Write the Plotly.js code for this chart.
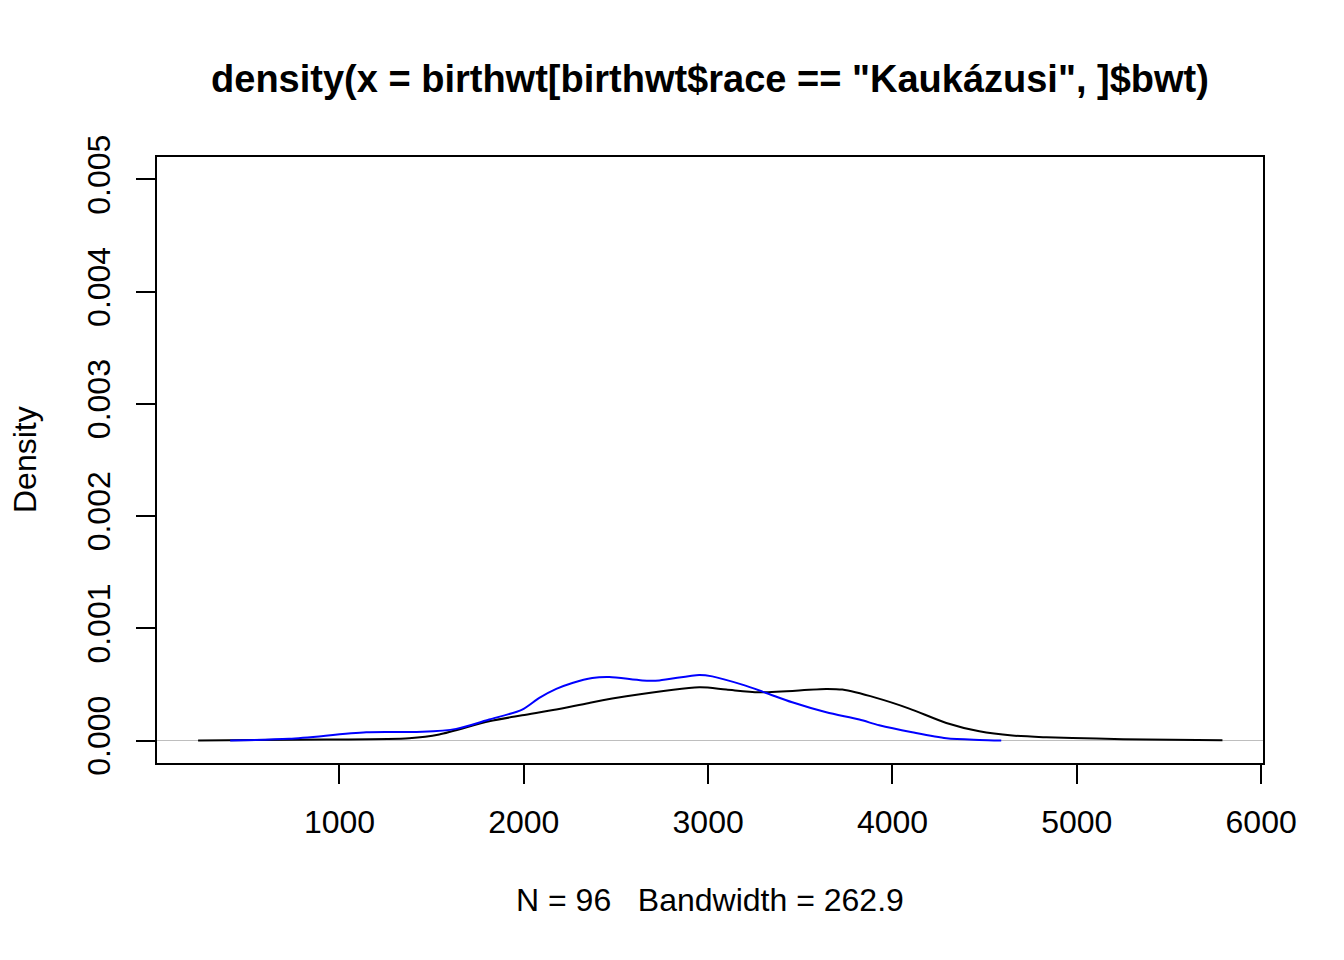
<!DOCTYPE html>
<html>
<head>
<meta charset="utf-8">
<script src="https://cdn.plot.ly/plotly-3.0.1.min.js"></script>
<style>html,body{margin:0;padding:0;background:#fff;}#chart{width:1344px;height:960px;}</style>
</head>
<body>
<div id="chart"></div>
<script>
// Black curve: density of all birth weights
const allX = [233, 928, 1378, 1541, 1812, 1991, 2176, 2355, 2556, 2952, 3098, 3277, 3641, 3728, 3912, 4091, 4292, 4471, 4650, 4835, 5106, 5377, 5790];
const allY = [0.000001, 0.0000089, 0.0000205, 0.0000534, 0.000172, 0.000225, 0.000276, 0.000335, 0.000394, 0.000474, 0.000454, 0.000430, 0.000460, 0.000454, 0.000380, 0.000285, 0.000157, 0.0000827, 0.0000445, 0.0000294, 0.0000178, 0.0000089, 0.000002];
// Blue curve: density for race == "Kaukázusi"
const cauX = [407, 727, 1145, 1449, 1633, 1812, 1991, 2084, 2176, 2263, 2371, 2464, 2643, 2735, 2952, 3022, 3185, 3315, 3456, 3641, 3820, 3928, 4107, 4292, 4471, 4590];
const cauY = [0.000001, 0.0000151, 0.0000738, 0.0000774, 0.000104, 0.000187, 0.000276, 0.000380, 0.000460, 0.000513, 0.000558, 0.000567, 0.000536, 0.000536, 0.000585, 0.000572, 0.000498, 0.000424, 0.000341, 0.000252, 0.000187, 0.000136, 0.0000738, 0.0000205, 0.000006, 0.000001];

const xTicks = [1000, 2000, 3000, 4000, 5000, 6000];
const yTicks = [0, 0.001, 0.002, 0.003, 0.004, 0.005];
const yTickText = ["0.000", "0.001", "0.002", "0.003", "0.004", "0.005"];

const titleText = 'density(x = birthwt[birthwt$race == "Kaukázusi", ]$bwt)';
const subText = 'N = 96\u00a0\u00a0\u00a0Bandwidth = 262.9';
const yLabel = 'Density';

const FONT = 'Liberation Sans, Arial, sans-serif';

const traces = [
  {x: allX, y: allY, mode: 'lines', line: {color: '#000000', width: 2, shape: 'spline', smoothing: 0.8}, hoverinfo: 'skip'},
  {x: cauX, y: cauY, mode: 'lines', line: {color: '#0000FF', width: 2, shape: 'spline', smoothing: 0.8}, hoverinfo: 'skip'}
];

const layout = {
  width: 1344, height: 960,
  margin: {l: 157, r: 81, t: 157, b: 197, pad: 0},
  paper_bgcolor: '#ffffff', plot_bgcolor: '#ffffff',
  showlegend: false,
  font: {family: FONT, size: 32, color: '#000'},
  title: {text: '<b>' + titleText + '</b>', font: {family: FONT, size: 38, color: '#000'},
          x: 710/1344, xanchor: 'center', xref: 'container', y: 1 - 79/960, yanchor: 'middle', yref: 'container'},
  xaxis: {
    range: [10, 6010], tickvals: xTicks, ticktext: xTicks.map(String),
    ticks: 'outside', ticklen: 19, tickwidth: 2, tickcolor: '#000',
    showline: true, linecolor: '#000', linewidth: 2, mirror: true,
    showgrid: false, zeroline: false,
    tickfont: {family: FONT, size: 32, color: '#000'}, ticklabelstandoff: 11
  },
  yaxis: {
    range: [-0.0002, 0.0052], tickvals: yTicks, ticktext: yTickText, tickangle: -90,
    ticks: 'outside', ticklen: 19, tickwidth: 2, tickcolor: '#000',
    showline: true, linecolor: '#000', linewidth: 2, mirror: true,
    showgrid: false, zeroline: true, zerolinecolor: '#BEBEBE', zerolinewidth: 1,
    tickfont: {family: FONT, size: 32, color: '#000'}, ticklabelstandoff: 13
  },
  annotations: [
    {text: subText, xref: 'paper', yref: 'paper', x: 0.5, y: -(900-763)/606, xanchor: 'center', yanchor: 'middle', showarrow: false, font: {family: FONT, size: 32, color: '#000'}},
    {text: yLabel, xref: 'paper', yref: 'paper', x: -(157-25)/1106, y: 0.5, xanchor: 'center', yanchor: 'middle', textangle: -90, showarrow: false, font: {family: FONT, size: 32, color: '#000'}}
  ]
};

Plotly.newPlot('chart', traces, layout, {staticPlot: true, displayModeBar: false});
</script>
</body>
</html>
